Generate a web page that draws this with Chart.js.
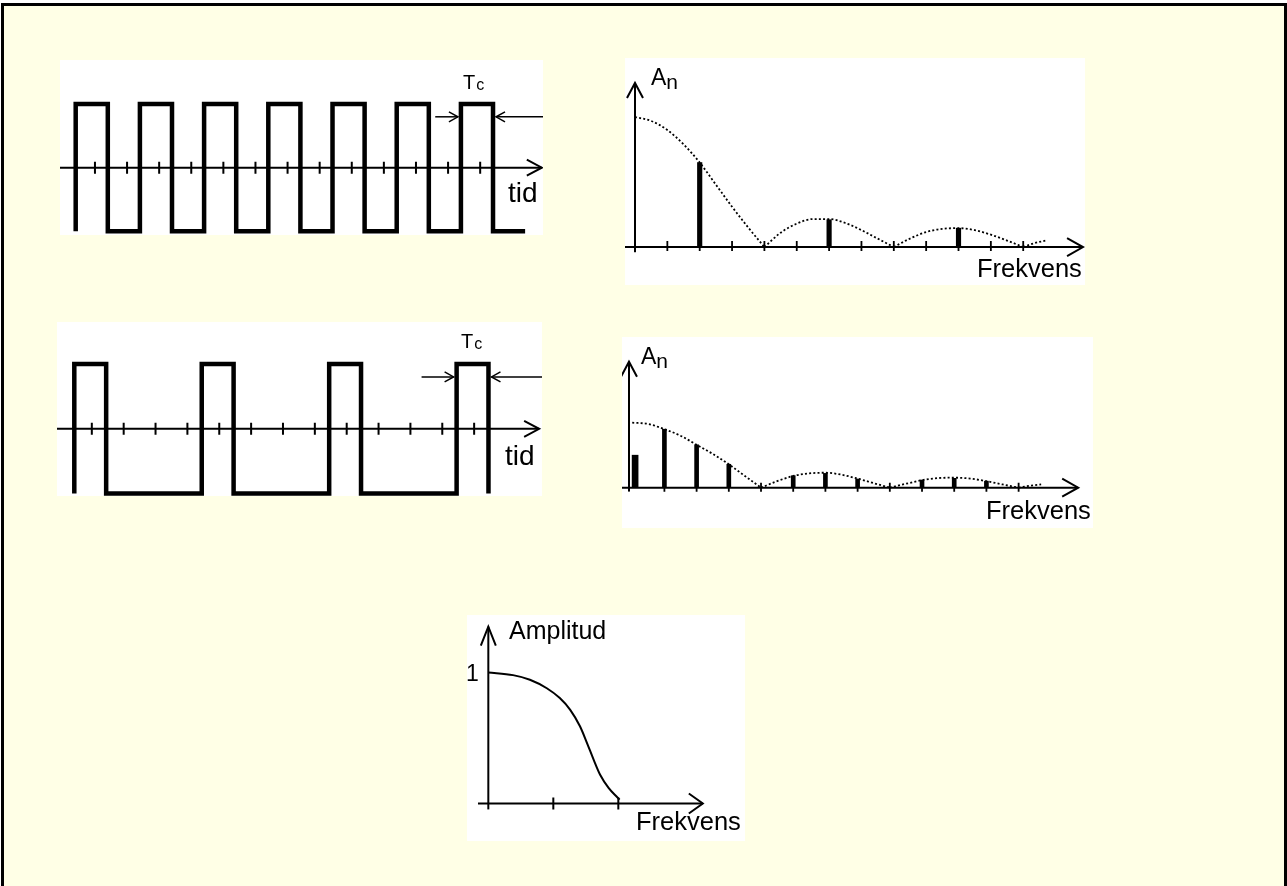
<!DOCTYPE html>
<html>
<head>
<meta charset="utf-8">
<script src="https://cdn.jsdelivr.net/npm/chart.js@4.4.1/dist/chart.umd.min.js"></script>
<style>
  html, body { margin: 0; padding: 0; background: #fff; width: 1287px; height: 886px; overflow: hidden; }
  #sheet { position: absolute; left: 1px; top: 3px; width: 1280px; height: 900px; border: 3px solid #000; background: #FFFFE6; }
  canvas { position: absolute; background: #fff; }
  .lbl { position: absolute; font-family: "Liberation Sans", Arial, Helvetica, sans-serif; color: #000; line-height: 1; white-space: nowrap; }
  .sub { position: relative; }
</style>
</head>
<body>
<div id="sheet"></div>

<canvas id="waveFast" width="483" height="175" style="left:60px;top:60px"></canvas>
<canvas id="specFast" width="460" height="227" style="left:625px;top:58px"></canvas>
<canvas id="waveSlow" width="485" height="174" style="left:57px;top:322px"></canvas>
<canvas id="specSlow" width="471" height="191" style="left:622px;top:337px"></canvas>
<canvas id="filter" width="278" height="226" style="left:467px;top:615px"></canvas>

<div class="lbl" style="left:463px;top:71.6px;font-size:20px">T<span class="sub" style="font-size:16px;top:1px;margin-left:1px">c</span></div>
<div class="lbl" style="left:508px;top:179px;font-size:28px">tid</div>
<div class="lbl" style="left:651px;top:65.5px;font-size:23px">A<span class="sub" style="font-size:21px;top:4px">n</span></div>
<div class="lbl" style="left:977px;top:256.4px;font-size:25.5px">Frekvens</div>

<div class="lbl" style="left:461px;top:331.1px;font-size:20px">T<span class="sub" style="font-size:16px;top:1px;margin-left:1px">c</span></div>
<div class="lbl" style="left:505px;top:442.3px;font-size:28px">tid</div>
<div class="lbl" style="left:641px;top:344.5px;font-size:23px">A<span class="sub" style="font-size:21px;top:4px">n</span></div>
<div class="lbl" style="left:986px;top:498.4px;font-size:25.5px">Frekvens</div>

<div class="lbl" style="left:509px;top:618.3px;font-size:25px">Amplitud</div>
<div class="lbl" style="left:466px;top:662.2px;font-size:23px">1</div>
<div class="lbl" style="left:636px;top:809.4px;font-size:25.5px">Frekvens</div>

<script>
// ---- Time signals: one level (+1 / -1) per chip of length Tc ----
const restLevel = -1;
const chipsFast = [1, -1, 1, -1, 1, -1, 1, -1, 1, -1, 1, -1, 1, -1];
const chipsSlow = [1, -1, -1, -1, 1, -1, -1, -1, 1, -1, -1, -1, 1];
const timeTicksFast = [0.6, 1.6, 2.6, 3.6, 4.6, 5.6, 6.6, 7.6, 8.6, 9.6, 10.6, 11.6, 12.6];
const timeTicksSlow = [0.55, 1.55, 2.55, 3.55, 4.55, 5.55, 6.55, 7.55, 8.55, 9.55, 10.55, 11.55, 12.55];

// ---- Spectra (frequency in harmonic steps, amplitude relative to A0 of the fast signal) ----
const freqTicks = [1, 2, 3, 4, 5, 6, 7, 8, 9, 10, 11, 12];
const lineFreqFast = [2, 6, 10];
const lineAmpFast = [0.65, 0.21, 0.145];
const dcFreqSlow = [0.09];
const dcAmpSlow = [0.25];
const lineFreqSlow = [1, 2, 3, 5, 6, 7, 9, 10, 11];
const lineAmpSlow = [0.45, 0.33, 0.18, 0.092, 0.11, 0.067, 0.059, 0.072, 0.05];

// envelope, drawn lobe by lobe
const lobeFreq = [
  [0, 0.5, 1, 1.5, 2, 2.5, 3, 3.5, 4],
  [4, 4.5, 5, 5.5, 6, 6.5, 7, 7.5, 8],
  [8, 8.5, 9, 9.5, 10, 10.5, 11, 11.5, 12],
  [12, 12.35, 12.7]
];
const envAmpFast = [
  [1.00, 0.97, 0.90, 0.79, 0.65, 0.48, 0.31, 0.15, 0],
  [0, 0.11, 0.18, 0.215, 0.215, 0.185, 0.13, 0.065, 0],
  [0, 0.065, 0.115, 0.14, 0.145, 0.13, 0.095, 0.05, 0],
  [0, 0.03, 0.05]
];
const envAmpSlow = [
  [0.50, 0.49, 0.45, 0.40, 0.33, 0.26, 0.18, 0.09, 0],
  [0, 0.05, 0.09, 0.11, 0.115, 0.10, 0.07, 0.035, 0],
  [0, 0.03, 0.058, 0.074, 0.077, 0.07, 0.05, 0.025, 0],
  [0, 0.015, 0.025]
];

// ---- Filter response ----
const filterFreq = [0, 0.38, 0.64, 0.90, 1.10, 1.26, 1.41, 1.52, 1.62, 1.72, 1.85, 1.98, 2.02];
const filterAmp = [1.00, 0.98, 0.945, 0.88, 0.805, 0.715, 0.59, 0.46, 0.335, 0.22, 0.12, 0.05, 0.03];
const filterTicks = [1, 2];

// ---------------------------------------------------------------
function zip(xs, ys) { return xs.map((x, i) => ({ x: x, y: ys[i] })); }

// step points: value of chip i holds from x=i to x=i+1
function stepPoints(chips) {
  const pts = [{ x: 0, y: restLevel }];
  chips.forEach((v, i) => pts.push({ x: i, y: v }));
  pts.push({ x: chips.length, y: restLevel });
  return pts;
}

function drawArrow(ctx, x0, y0, x1, y1, head, width) {
  ctx.lineWidth = width;
  ctx.beginPath(); ctx.moveTo(x0, y0); ctx.lineTo(x1, y1); ctx.stroke();
  const ang = Math.atan2(y1 - y0, x1 - x0);
  const len = head[0], half = head[1];
  const bx = x1 - len * Math.cos(ang), by = y1 - len * Math.sin(ang);
  const nx = -Math.sin(ang) * half, ny = Math.cos(ang) * half;
  ctx.beginPath(); ctx.moveTo(bx + nx, by + ny); ctx.lineTo(x1, y1); ctx.lineTo(bx - nx, by - ny); ctx.stroke();
}

// axes with open arrowheads, crossing tick marks and the Tc markers
const sketchAxes = {
  id: 'sketchAxes',
  beforeDatasetsDraw(chart, args, o) {
    const ctx = chart.ctx, x = chart.scales.x, y = chart.scales.y;
    ctx.save();
    ctx.strokeStyle = '#000';
    ctx.lineCap = 'butt';
    ctx.lineJoin = 'miter';
    if (o.xAxis) {
      const a = o.xAxis, py = y.getPixelForValue(a.at);
      drawArrow(ctx, x.getPixelForValue(a.from), py, x.getPixelForValue(a.to), py, a.head, a.width);
    }
    if (o.yAxis) {
      const a = o.yAxis, px = x.getPixelForValue(a.at);
      drawArrow(ctx, px, y.getPixelForValue(a.from), px, y.getPixelForValue(a.to), a.head, a.width);
    }
    if (o.ticks) {
      const t = o.ticks, py = y.getPixelForValue(0);
      ctx.lineWidth = t.width;
      ctx.beginPath();
      t.values.forEach(v => {
        const px = x.getPixelForValue(v);
        ctx.moveTo(px, py - t.up); ctx.lineTo(px, py + t.down);
      });
      ctx.stroke();
    }
    ctx.restore();
  },
  afterDatasetsDraw(chart, args, o) {
    if (!o.tc) return;
    const ctx = chart.ctx, x = chart.scales.x, y = chart.scales.y, t = o.tc;
    const py = y.getPixelForValue(t.y);
    ctx.save();
    ctx.strokeStyle = '#000';
    ctx.lineJoin = 'miter';
    drawArrow(ctx, x.getPixelForValue(t.inFrom), py, x.getPixelForValue(t.inTo) - t.gap, py, t.head, t.width);
    drawArrow(ctx, x.getPixelForValue(t.outFrom), py, x.getPixelForValue(t.outTo) + t.gap, py, t.head, t.width);
    ctx.restore();
  }
};

function makeChart(id, xr, yr, datasets, axes) {
  return new Chart(document.getElementById(id), {
    type: 'line',
    data: { datasets: datasets },
    options: {
      responsive: false,
      animation: false,
      devicePixelRatio: 1,
      events: [],
      layout: { padding: 0 },
      scales: {
        x: { type: 'linear', min: xr[0], max: xr[1], display: false, offset: false },
        y: { type: 'linear', min: yr[0], max: yr[1], display: false }
      },
      elements: { point: { radius: 0 } },
      plugins: { legend: { display: false }, tooltip: { enabled: false }, sketchAxes: axes }
    },
    plugins: [sketchAxes]
  });
}

function waveSet(chips) {
  return { type: 'line', data: stepPoints(chips), stepped: 'before', borderColor: '#000', borderWidth: 4.5,
           borderJoinStyle: 'miter', borderCapStyle: 'butt', pointRadius: 0, clip: false };
}
function envelopeSets(amps) {
  return lobeFreq.map((fs, i) => ({
    type: 'line', data: zip(fs, amps[i]), cubicInterpolationMode: 'monotone', borderColor: '#000',
    borderWidth: 1.8, borderDash: [2, 2.2], borderCapStyle: 'butt', pointRadius: 0, clip: false
  }));
}
function barSet(fs, as, thickness) {
  return { type: 'bar', data: zip(fs, as), backgroundColor: '#000', borderWidth: 0,
           barThickness: thickness, grouped: false, clip: false };
}

// square wave with one chip per period half
makeChart('waveFast', [-0.489, 14.557], [-1.058, 1.693], [waveSet(chipsFast)], {
  xAxis: { at: 0, from: -0.489, to: 14.52, head: [15, 8], width: 2 },
  ticks: { values: timeTicksFast, up: 6, down: 6, width: 2 },
  tc: { y: 0.8, inFrom: 11.2, inTo: 12, outFrom: 14.557, outTo: 13, gap: 3, head: [9, 5], width: 1.5 }
});

makeChart('specFast', [-0.309, 13.91], [-0.292, 1.454],
  [barSet(lineFreqFast, lineAmpFast, 4.5)].concat(envelopeSets(envAmpFast)), {
  xAxis: { at: 0, from: -0.309, to: 13.85, head: [16, 9], width: 2 },
  yAxis: { at: 0, from: -0.04, to: 1.262, head: [15, 8], width: 2 },
  ticks: { values: freqTicks, up: 6, down: 4, width: 1.8 }
});

// pulse train: one chip high out of four
makeChart('waveSlow', [-0.543, 14.68], [-1.037, 1.648], [waveSet(chipsSlow)], {
  xAxis: { at: 0, from: -0.543, to: 14.59, head: [15, 8], width: 2 },
  ticks: { values: timeTicksSlow, up: 6, down: 6, width: 2 },
  tc: { y: 0.8, inFrom: 10.9, inTo: 12, outFrom: 14.68, outTo: 13, gap: 3, head: [9, 5], width: 1.5 }
});

makeChart('specSlow', [-0.317, 14.31], [-0.31, 1.159],
  [barSet(dcFreqSlow, dcAmpSlow, 6), barSet(lineFreqSlow, lineAmpSlow, 4)].concat(envelopeSets(envAmpSlow)), {
  xAxis: { at: 0, from: -0.317, to: 13.85, head: [16, 9], width: 2 },
  yAxis: { at: -0.1, from: -0.03, to: 0.969, head: [15, 8], width: 2 },
  ticks: { values: freqTicks, up: 5, down: 4, width: 1.8 }
});

// low-pass filter curve
makeChart('filter', [-0.328, 3.949], [-0.286, 1.439], [{
  type: 'line', data: zip(filterFreq, filterAmp), cubicInterpolationMode: 'monotone', borderColor: '#000',
  borderWidth: 2, pointRadius: 0, clip: false
}], {
  xAxis: { at: 0, from: -0.159, to: 3.3, head: [14, 10], width: 2 },
  yAxis: { at: 0, from: -0.045, to: 1.35, head: [19, 7.5], width: 2 },
  ticks: { values: filterTicks, up: 6, down: 6, width: 2 }
});
</script>
</body>
</html>
